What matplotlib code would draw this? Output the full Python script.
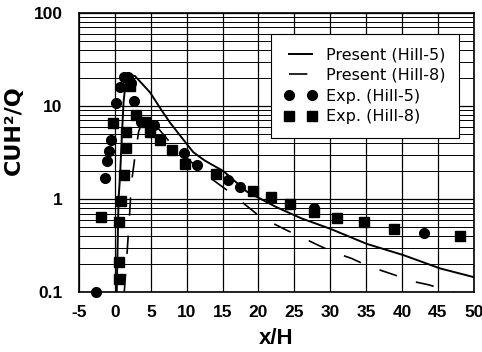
import numpy as np
import matplotlib
matplotlib.use("Agg")
import matplotlib.pyplot as plt
from matplotlib.ticker import FixedLocator, FixedFormatter, LogLocator, NullFormatter

plt.rcParams['axes.unicode_minus'] = False

# present model, Hill-5 (solid)
x_h5 = [0.25, 0.5, 0.7, 0.95, 1.2, 1.5, 2.0, 2.8, 3.6, 4.9, 6.5, 7.7, 9.1, 10.9, 12.5,
        15.1, 18.4, 22.5, 26.0, 30.0, 35.1, 40.2, 45.3, 50.0]
y_h5 = [0.1, 1.0, 1.7, 4.5, 11.0, 18.0, 21.5, 21.0, 18.0, 14.0, 9.0, 6.6, 4.8, 3.2, 2.6,
        2.0, 1.2, 0.82, 0.62, 0.48, 0.33, 0.25, 0.18, 0.145]

# present model, Hill-8 (dashed)
x_h8 = [1.3, 1.7, 2.0, 2.3, 2.8, 3.3, 3.9, 4.6, 6.0, 8.0, 10.9, 12.8, 15.6, 17.2, 20.3,
        24.0, 26.0, 28.3, 30.4, 33.0, 35.0, 37.2, 39.3, 41.6, 43.7, 46.2, 48.0]
y_h8 = [0.1, 0.27, 0.6, 1.5, 2.9, 5.3, 7.2, 7.4, 5.8, 3.8, 2.4, 1.8, 1.25, 1.0, 0.64,
        0.46, 0.39, 0.32, 0.27, 0.23, 0.195, 0.17, 0.15, 0.13, 0.12, 0.105, 0.095]

# experiments
ex5_x = [-2.7, -1.4, -1.05, -0.8, -0.6, 0.15, 0.7, 1.2, 1.8, 2.2, 2.7, 3.6, 5.4,
         9.6, 11.4, 15.8, 17.4, 27.7, 43.1]
ex5_y = [0.1, 1.7, 2.6, 3.3, 4.3, 10.8, 16.0, 20.5, 20.5, 17.5, 11.3, 6.8, 6.2,
         3.1, 2.3, 1.6, 1.36, 0.8, 0.43]

ex8_x = [-1.9, -0.3, 0.6, 0.6, 0.6, 0.8, 1.3, 1.5, 1.6, 2.1, 3.0, 4.2, 4.9, 6.3,
         7.9, 9.7, 14.1, 19.3, 21.7, 24.4, 27.7, 30.9, 34.7, 38.9, 48.1]
ex8_y = [0.65, 6.6, 0.14, 0.21, 0.57, 0.96, 1.8, 3.5, 5.3, 16.5, 8.0, 6.7, 5.3, 4.3,
         3.4, 2.4, 1.85, 1.22, 1.06, 0.89, 0.72, 0.62, 0.57, 0.48, 0.40]

xticks = [-5, 0, 5, 10, 15, 20, 25, 30, 35, 40, 45, 50]
yticks = [0.1, 1, 10, 100]
ylabels = ['0.1', '1', '10', '100']

fig = plt.figure(figsize=(4.82, 3.52), dpi=100)
ax = fig.add_axes([0.164, 0.170, 0.819, 0.793])

ax.plot(x_h5, y_h5, color='black', lw=1.4, label='Present (Hill-5)', zorder=3)
ax.plot(x_h8, y_h8, color='black', lw=1.2, dashes=(11, 12), label='Present (Hill-8)', zorder=3)
ax.plot(ex5_x, ex5_y, 'o', color='black', ms=7, label='Exp. (Hill-5)', zorder=4, clip_on=False)
ax.plot(ex8_x, ex8_y, 's', color='black', ms=6.5, label='Exp. (Hill-8)', zorder=4)

ax.set_yscale('log')
ax.set_xlim(-5, 50)
ax.set_ylim(0.1, 100)
ax.xaxis.set_major_locator(FixedLocator(xticks))
ax.yaxis.set_major_locator(FixedLocator(yticks))
ax.yaxis.set_major_formatter(FixedFormatter(ylabels))
ax.yaxis.set_minor_locator(LogLocator(base=10, subs=np.arange(2, 10)))
ax.yaxis.set_minor_formatter(NullFormatter())

ax.grid(True, which='major', color='black', lw=0.9)
ax.grid(True, which='minor', axis='y', color='black', lw=0.7)
ax.tick_params(which='both', length=0)
ax.tick_params(axis='y', pad=12)
ax.tick_params(axis='x', pad=9)
for lab in ax.get_xticklabels() + ax.get_yticklabels():
    lab.set_fontfamily('Liberation Sans')
    lab.set_fontweight('bold')
    lab.set_fontsize(12.5)
for s in ax.spines.values():
    s.set_linewidth(1.2)

ax.set_xlabel('x/H', fontfamily='Liberation Sans', fontweight='bold', fontsize=16, labelpad=6)
ax.set_ylabel('CUH²/Q', fontfamily='DejaVu Sans', fontweight='bold', fontsize=16)
ax.yaxis.set_label_coords(-0.14, 0.58)

leg = ax.legend(loc='upper left', bbox_to_anchor=(0.466, 0.955), numpoints=2,
                handlelength=2.0, fancybox=False, framealpha=1, edgecolor='black',
                prop={'family': 'DejaVu Sans', 'size': 11.5}, borderpad=0.85,
                labelspacing=0.36, handletextpad=0.6)
leg.get_frame().set_linewidth(0.8)
leg.set_zorder(5)

fig.savefig('out.png', dpi=100)
